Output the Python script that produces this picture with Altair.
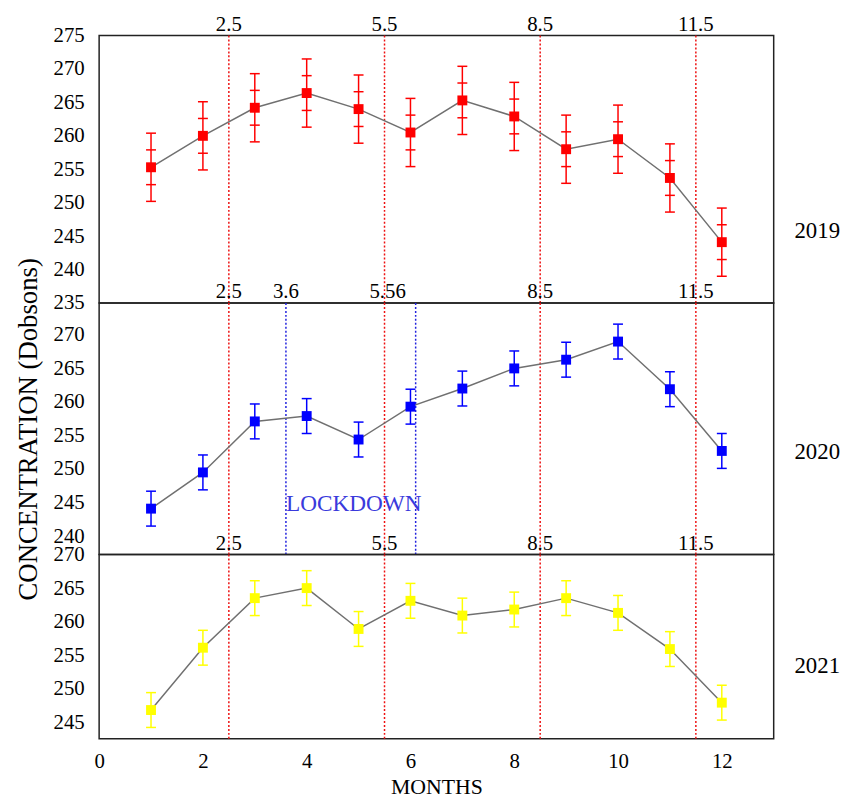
import altair as alt
import pandas as pd

FONT = "Liberation Serif"

months = [1, 2, 3, 4, 5, 6, 7, 8, 9, 10, 11, 12]
ozone_2019 = [255.3, 260.0, 264.2, 266.4, 264.0, 260.5, 265.3, 262.9, 258.0, 259.5, 253.7, 244.1]
ozone_2020 = [244.1, 249.5, 257.1, 257.9, 254.4, 259.3, 262.0, 265.0, 266.3, 269.0, 261.9, 252.7]
ozone_2021 = [246.8, 256.1, 263.5, 265.0, 258.9, 263.1, 260.9, 261.8, 263.5, 261.3, 255.9, 247.9]
err_outer_2019 = [5.1, 5.1, 5.1, 5.1, 5.1, 5.1, 5.1, 5.1, 5.1, 5.1, 5.1, 5.1]
err_inner_2019 = [2.6, 2.6, 2.6, 2.6, 2.6, 2.6, 2.6, 2.6, 2.6, 2.6, 2.6, 2.6]
err_2020 = [2.6, 2.6, 2.6, 2.6, 2.6, 2.6, 2.6, 2.6, 2.6, 2.6, 2.6, 2.6]
err_2021 = [2.6, 2.6, 2.6, 2.6, 2.6, 2.6, 2.6, 2.6, 2.6, 2.6, 2.6, 2.6]

season_pos = [2.5, 5.5, 8.5, 11.5]
season_labels = ["2.5", "5.5", "8.5", "11.5"]
lockdown_pos = [3.6, 6.1]
panel2_label_pos = [2.5, 3.6, 5.56, 8.5, 11.5]
panel2_labels = ["2.5", "3.6", "5.56", "8.5", "11.5"]
lockdown_text = "LOCKDOWN"
lockdown_text_x = 3.6
lockdown_text_y = 244.8

x_ticks = [0, 2, 4, 6, 8, 10, 12]
years = ["2019", "2020", "2021"]

W = 681


def panel(vals, errs, color, year, height, domain, yticks, year_y,
          inner_errs=None, top_pos=None, top_labels=None, blue=False,
          show_x=False, ytitle=None, lockdown=False):
    df = pd.DataFrame({
        "month": months,
        "v": vals,
        "lo": [v - e for v, e in zip(vals, errs)],
        "hi": [v + e for v, e in zip(vals, errs)],
    })
    xscale = alt.Scale(domain=[0, 13], nice=False, zero=False)
    yscale = alt.Scale(domain=domain, nice=False, zero=False)
    if show_x:
        xaxis = alt.Axis(values=x_ticks, title="MONTHS", labelFontSize=21,
                         labelPadding=12, titleFontSize=22, titlePadding=5,
                         titleFont=FONT, titleFontWeight="normal", tickSize=0,
                         labelFont=FONT, titleColor="black", labelColor="black",
                         labelFlush=False)
    else:
        xaxis = None
    yaxis = alt.Axis(values=yticks, title=ytitle, labelFontSize=21,
                     labelPadding=15, tickSize=0, titleFontSize=27,
                     titlePadding=11, titleFont=FONT, titleFontWeight="normal",
                     labelFont=FONT, titleColor="black", labelColor="black",
                     labelFlush=False)

    def X(field):
        return alt.X(field, scale=xscale, axis=xaxis)

    def Y(field):
        return alt.Y(field, scale=yscale, axis=yaxis)

    layers = []
    # seasonal red dotted lines
    sdf = pd.DataFrame({"pos": season_pos})
    layers.append(alt.Chart(sdf).mark_rule(color="#ee1111", strokeWidth=1.5,
                                           strokeDash=[2, 2]).encode(x=X("pos:Q")))
    if blue:
        bdf = pd.DataFrame({"pos": lockdown_pos})
        layers.append(alt.Chart(bdf).mark_rule(color="#2222dd", strokeWidth=1.5,
                                               strokeDash=[2, 2]).encode(x=X("pos:Q")))
    # error bars
    layers.append(alt.Chart(df).mark_rule(color=color, strokeWidth=1.5).encode(
        x=X("month:Q"), y=Y("lo:Q"), y2="hi:Q"))
    layers.append(alt.Chart(df).mark_tick(color=color, orient="horizontal", size=10,
                                          thickness=1.5, opacity=1).encode(
        x=X("month:Q"), y=Y("lo:Q")))
    layers.append(alt.Chart(df).mark_tick(color=color, orient="horizontal", size=10,
                                          thickness=1.5, opacity=1).encode(
        x=X("month:Q"), y=Y("hi:Q")))
    if inner_errs is not None:
        idf = pd.DataFrame({
            "month": months,
            "ilo": [v - e for v, e in zip(vals, inner_errs)],
            "ihi": [v + e for v, e in zip(vals, inner_errs)],
        })
        layers.append(alt.Chart(idf).mark_tick(color=color, orient="horizontal", size=10,
                                               thickness=1.5, opacity=1).encode(
            x=X("month:Q"), y=Y("ilo:Q")))
        layers.append(alt.Chart(idf).mark_tick(color=color, orient="horizontal", size=10,
                                               thickness=1.5, opacity=1).encode(
            x=X("month:Q"), y=Y("ihi:Q")))
    # line and markers
    layers.append(alt.Chart(df).mark_line(color="#707070", strokeWidth=1.5).encode(
        x=X("month:Q"), y=Y("v:Q")))
    layers.append(alt.Chart(df).mark_square(color=color, size=100, opacity=1,
                                            filled=True).encode(
        x=X("month:Q"), y=Y("v:Q")))
    # top labels
    tdf = pd.DataFrame({"pos": top_pos, "lab": top_labels})
    layers.append(alt.Chart(tdf).mark_text(font=FONT, fontSize=21, color="black",
                                           baseline="middle", align="center").encode(
        x=X("pos:Q"), y=alt.value(-11), text="lab:N"))
    if lockdown:
        ldf = pd.DataFrame({"x": [lockdown_text_x], "y": [lockdown_text_y],
                            "t": [lockdown_text]})
        layers.append(alt.Chart(ldf).mark_text(font=FONT, fontSize=23.5, color="#3a3adc",
                                               baseline="middle", align="left").encode(
            x=X("x:Q"), y=Y("y:Q"), text="t:N"))
    # year label
    ydf = pd.DataFrame({"t": [year]})
    layers.append(alt.Chart(ydf).mark_text(font=FONT, fontSize=23, color="black",
                                           baseline="middle", align="left").encode(
        x=alt.value(W + 21), y=alt.value(year_y), text="t:N"))

    return alt.layer(*layers).properties(width=W, height=height)


p1 = panel(ozone_2019, err_outer_2019, "#ff0000", years[0], 270, [235, 275],
           [235, 240, 245, 250, 255, 260, 265, 270, 275], 197,
           inner_errs=err_inner_2019, top_pos=season_pos, top_labels=season_labels)
p2 = panel(ozone_2020, err_2020, "#0000ff", years[1], 254, [237.25, 274.75],
           [240, 245, 250, 255, 260, 265, 270], 150,
           top_pos=panel2_label_pos, top_labels=panel2_labels, blue=True,
           ytitle="CONCENTRATION (Dobsons)", lockdown=True)
p3 = panel(ozone_2021, err_2021, "#ffff00", years[2], 186, [242.5, 270],
           [245, 250, 255, 260, 265, 270], 113,
           top_pos=season_pos, top_labels=season_labels, show_x=True)

chart = alt.vconcat(p1, p2, p3, spacing=0, bounds="flush").resolve_scale(
    x="independent", y="independent"
).configure_view(stroke="#222222", strokeWidth=1.5).configure_axis(
    grid=False, domain=False, ticks=False
).properties(padding={"left": 5, "top": 1, "right": 5, "bottom": 5})

chart.save("out.html", embed_options={"renderer": "svg", "actions": False})
